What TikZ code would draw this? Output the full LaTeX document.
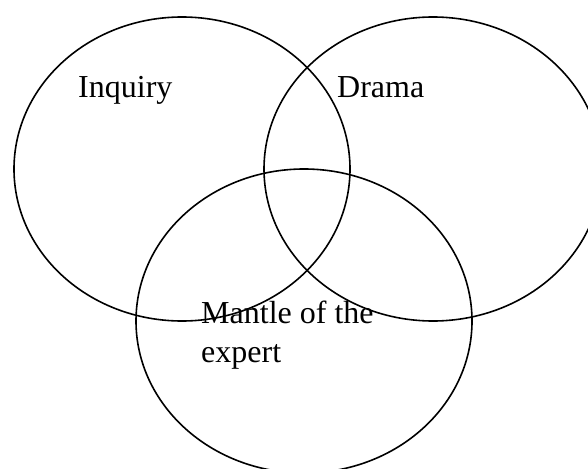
\documentclass[tikz,border=0pt]{standalone}
\usepackage{fontspec}
\setmainfont{Liberation Serif}
\begin{document}
\begin{tikzpicture}[x=1pt,y=-1pt,
  ring/.style={draw=black, line width=1.6pt},
  lbl/.style={anchor=base west, inner sep=0pt, font=\fontsize{32}{38.5}\selectfont}]
\useasboundingbox (0,0) rectangle (588,468);
\clip (0,0) rectangle (588,468);
\draw[ring] (182,169) ellipse [x radius=168pt, y radius=152pt];
\draw[ring] (433,169) ellipse [x radius=169pt, y radius=152pt];
\draw[ring] (304,321) ellipse [x radius=168pt, y radius=152pt];
\node[lbl] (inquiry) at (78,98) {Inquiry};
\node[lbl] (drama) at (337,98) {Drama};
\node[lbl] (mantle) at (201,323) {Mantle of the};
\node[lbl] (expert) at (201,362) {expert};
\end{tikzpicture}
\end{document}
